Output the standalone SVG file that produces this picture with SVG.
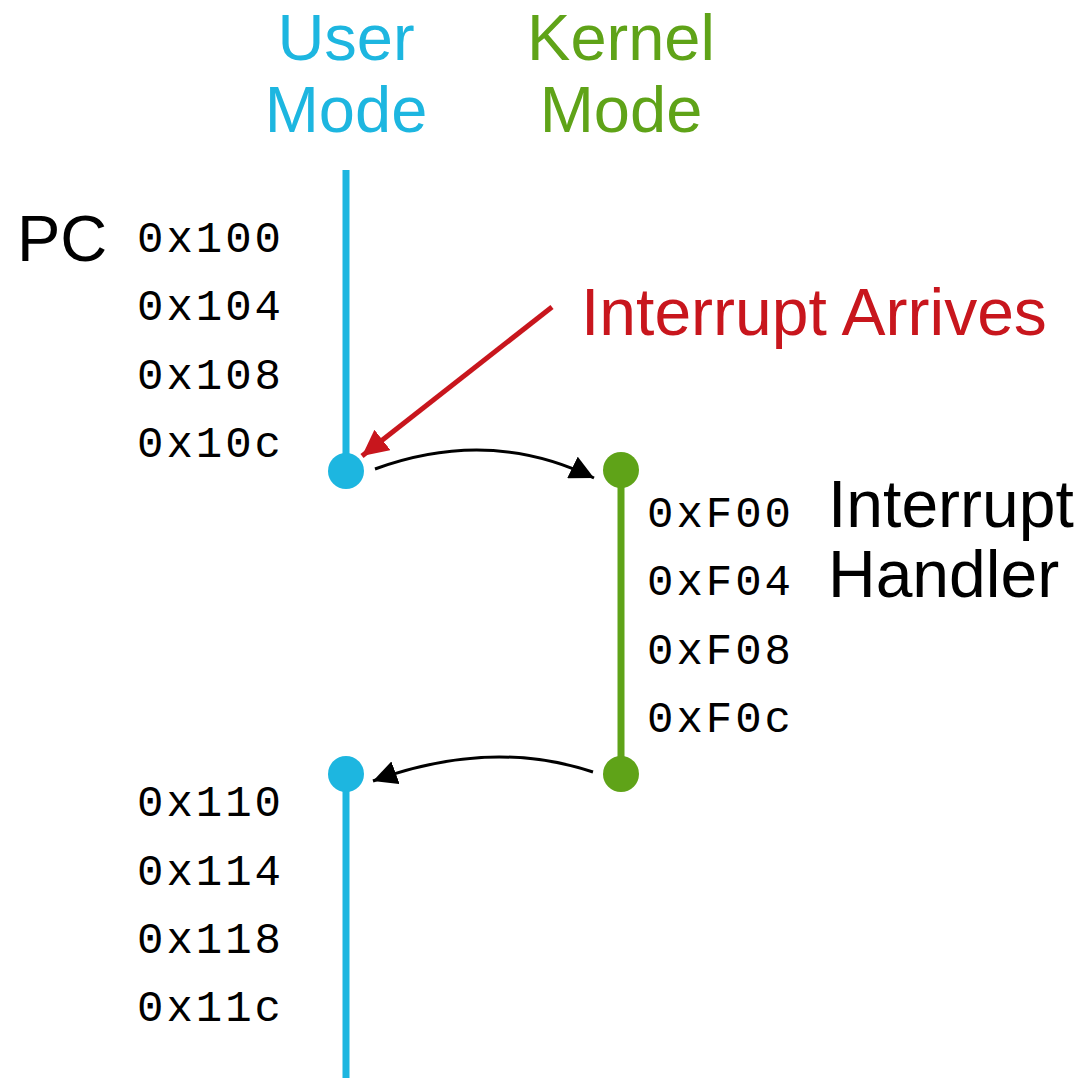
<svg xmlns="http://www.w3.org/2000/svg" width="1081" height="1079" viewBox="0 0 1081 1079">
<style>
.lbl{font-family:"Liberation Sans",Arial,sans-serif;font-size:65px}
.big{font-size:66px}
.hex{font-family:"Liberation Mono","Courier New",monospace;font-size:44px;letter-spacing:3px;fill:#000}
.user{fill:#1db6e0}
.kern{fill:#5fa318}
.uline{stroke:#1db6e0;stroke-width:7;fill:none}
.kline{stroke:#5fa318;stroke-width:7;fill:none}
.conn{stroke:#000;stroke-width:3;fill:none}
</style>
<defs>
<marker id="ahBlack" viewBox="0 0 24 24" refX="24" refY="12" markerWidth="24" markerHeight="24" orient="auto" markerUnits="userSpaceOnUse">
<path d="M0,0 L24,12 L0,24 z" fill="#000"/>
</marker>
<marker id="ahRed" viewBox="0 0 26 26" refX="26" refY="13" markerWidth="26" markerHeight="26" orient="auto" markerUnits="userSpaceOnUse">
<path d="M0,0 L26,13 L0,26 z" fill="#c8161d"/>
</marker>
</defs>
<g id="headers">
<text class="lbl user" x="346" y="60" text-anchor="middle">User</text>
<text class="lbl user" x="346" y="132" text-anchor="middle">Mode</text>
<text class="lbl kern" x="621" y="60" text-anchor="middle">Kernel</text>
<text class="lbl kern" x="621" y="132" text-anchor="middle">Mode</text>
<text class="lbl" x="17" y="261" fill="#000">PC</text>
</g>
<g id="user-top">
<line class="uline" x1="346" y1="170" x2="346" y2="471"/>
<circle cx="346" cy="471" r="18" fill="#1db6e0"/>
<text class="hex" x="137" y="252">0x100</text>
<text class="hex" x="137" y="320">0x104</text>
<text class="hex" x="137" y="389">0x108</text>
<text class="hex" x="137" y="457">0x10c</text>
</g>
<g id="kernel">
<line class="kline" x1="621" y1="470" x2="621" y2="774"/>
<circle cx="621" cy="470" r="18" fill="#5fa318"/>
<circle cx="621" cy="774" r="18" fill="#5fa318"/>
<text class="hex" x="647" y="527">0xF00</text>
<text class="hex" x="647" y="595">0xF04</text>
<text class="hex" x="647" y="664">0xF08</text>
<text class="hex" x="647" y="732">0xF0c</text>
<text class="lbl big" x="828" y="527" fill="#000">Interrupt</text>
<text class="lbl big" x="828" y="597" fill="#000">Handler</text>
</g>
<g id="user-bottom">
<line class="uline" x1="346" y1="774" x2="346" y2="1078"/>
<circle cx="346" cy="774" r="18" fill="#1db6e0"/>
<text class="hex" x="137" y="816">0x110</text>
<text class="hex" x="137" y="885">0x114</text>
<text class="hex" x="137" y="953">0x118</text>
<text class="hex" x="137" y="1021">0x11c</text>
</g>
<g id="interrupt-label">
<text class="lbl big" x="581" y="335" fill="#c8161d">Interrupt Arrives</text>
</g>
<g id="connectors">
<line x1="552" y1="307" x2="362" y2="456" stroke="#c8161d" stroke-width="5" marker-end="url(#ahRed)"/>
<path class="conn" d="M375,469 Q490,427 594,478" marker-end="url(#ahBlack)"/>
<path class="conn" d="M593,772 Q490,738 373,781" marker-end="url(#ahBlack)"/>
</g>
</svg>
